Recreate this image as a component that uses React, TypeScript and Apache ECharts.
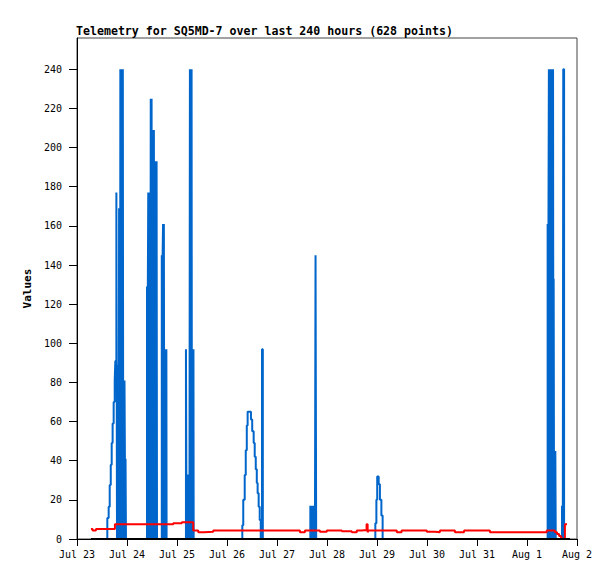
import React, { useEffect, useRef } from "react";
import * as echarts from "echarts";

const xTickLabels = ["Jul 23", "Jul 24", "Jul 25", "Jul 26", "Jul 27", "Jul 28", "Jul 29", "Jul 30", "Jul 31", "Aug 1", "Aug 2"];
const yTickValues = [0, 20, 40, 60, 80, 100, 120, 140, 160, 180, 200, 220, 240];

// [hours since Jul 23 00:00, value]
const blueValues: [number, number][] = [
  [6.7, 0],
  [14.55, 10.7], [15.2, 16.5], [15.7, 27.6], [16.2, 38], [16.65, 49], [17.1, 59], [17.6, 70], [18.1, 81], [18.4, 91], [18.9, 177],
  [19.2, 0], [19.4, 89], [19.6, 0], [19.8, 89], [20.0, 0], [20.2, 169], [20.4, 0], [20.5, 89], [20.7, 0], [20.8, 240], [21.0, 0],
  [21.2, 240], [21.4, 0], [21.6, 240], [21.8, 0], [22.0, 240], [22.2, 0], [22.4, 81], [22.6, 0], [22.8, 81], [23.0, 41], [23.2, 0],
  [23.3, 41], [23.5, 0],
  [33.6, 129], [33.8, 0], [34.0, 129], [34.2, 177], [34.4, 0], [34.6, 177], [34.8, 0], [35.0, 177], [35.2, 0], [35.4, 225], [35.6, 0],
  [35.8, 225], [36.0, 0], [36.1, 209], [36.3, 0], [36.5, 209], [36.7, 0], [36.9, 209], [37.0, 145], [37.2, 0], [37.4, 193], [37.6, 0],
  [37.8, 193], [38.0, 0], [38.2, 193], [38.4, 0],
  [40.7, 145], [40.9, 0], [41.1, 145], [41.3, 161], [41.5, 0], [41.7, 161], [41.9, 0], [42.1, 97], [42.3, 0], [42.5, 97], [42.7, 0],
  [42.9, 97], [43.0, 0],
  [52.3, 97], [52.6, 0], [52.8, 33], [53.0, 0], [53.2, 33], [53.4, 0], [53.6, 33], [53.8, 0], [54.0, 33], [54.2, 240], [54.4, 0],
  [54.6, 240], [54.8, 0], [55.0, 240], [55.1, 97], [55.3, 0], [55.5, 97], [55.7, 0], [55.9, 97], [56.0, 0],
  [79.35, 7], [79.8, 20], [80.5, 32.7], [81.0, 45.4], [81.5, 58], [81.9, 65], [83.5, 61], [84.1, 55], [84.8, 49], [85.3, 42],
  [85.8, 35.7], [86.3, 28.6], [86.7, 23.4], [87.2, 16.5], [87.7, 9.7], [88.2, 0], [88.8, 97], [89.2, 0],
  [112.0, 17], [112.2, 0], [112.4, 17], [112.6, 0], [112.8, 17], [113.0, 0], [113.2, 17], [113.4, 0], [113.6, 17], [113.8, 0],
  [114.0, 17], [114.2, 0], [114.5, 145], [114.8, 0],
  [143.2, 8], [143.7, 20], [144.1, 32], [144.8, 28], [145.4, 20], [146.1, 12], [146.7, 0],
  [225.9, 161], [226.1, 0], [226.3, 161], [226.5, 240], [226.7, 0], [226.9, 240], [227.1, 0], [227.3, 240], [227.4, 193], [227.6, 0],
  [227.8, 193], [228.0, 0], [228.1, 240], [228.3, 0], [228.5, 240], [228.7, 0], [228.8, 133], [229.0, 0], [229.2, 45], [229.4, 0],
  [229.6, 45], [229.8, 0],
  [232.8, 17], [233.0, 0], [233.2, 17], [233.4, 240], [233.8, 0], [234.7, 0],
];

const redValues: [number, number][] = [
  [6.7, 5.1], [7.5, 4.3], [9.1, 5.1], [18.2, 7.5], [46.2, 8.0], [50.3, 8.5], [55.8, 4.3], [58.2, 3.4], [61.0, 3.7], [65.4, 4.3],
  [107.0, 3.4], [109.4, 4.3], [116.6, 3.7], [119.9, 4.3], [127.1, 3.9], [131.9, 3.4], [134.3, 4.3], [136.7, 4.6], [139.0, 7.6],
  [139.5, 3.4], [139.8, 4.3], [153.5, 3.4], [155.8, 4.3], [167.9, 3.7], [171.8, 3.4], [174.2, 4.3], [181.4, 3.4], [185.8, 4.3],
  [198.2, 3.4], [225.5, 4.3], [229.4, 3.5], [230.4, 2.5], [231.4, 1.5], [232.3, 0.6], [232.8, 0], [234.2, 7.6], [235.2, 7.6],
];

const blackValues: [number, number][] = [
  [6.7, 0], [236.6, 0],
];

const MONO = "'DejaVu Sans Mono', 'Liberation Mono', monospace";

export default function App() {
  const ref = useRef<HTMLDivElement>(null);
  useEffect(() => {
    if (!ref.current) return;
    const chart = echarts.init(ref.current, null, { renderer: "svg" });
    chart.setOption({
      animation: false,
      backgroundColor: "#ffffff",
      title: {
        text: "Telemetry for SQ5MD-7 over last 240 hours (628 points)",
        left: 76,
        top: 24,
        padding: 0,
        textStyle: { fontFamily: MONO, fontWeight: "bold", fontSize: 11.6, color: "#000", lineHeight: 13 },
      },
      grid: {
        left: 77,
        right: 38,
        top: 38,
        bottom: 40,
        show: true,
        borderColor: "#444",
        borderWidth: 1,
        backgroundColor: "transparent",
      },
      xAxis: {
        type: "value",
        min: 0,
        max: 240,
        interval: 24,
        axisLine: { show: true, lineStyle: { color: "#000", width: 1 } },
        axisTick: { show: true, length: 7, lineStyle: { color: "#000" } },
        splitLine: { show: false },
        axisLabel: {
          margin: 10,
          fontFamily: MONO,
          fontSize: 10,
          color: "#000",
          formatter: (v: number) => xTickLabels[Math.round(v / 24)] ?? "",
        },
      },
      yAxis: {
        type: "value",
        min: 0,
        max: 256,
        name: "Values",
        nameLocation: "middle",
        nameGap: 33,
        nameTextStyle: { fontFamily: MONO, fontWeight: "bold", fontSize: 11, color: "#000" },
        axisLine: { show: true, lineStyle: { color: "#000", width: 1 } },
        axisTick: { show: true, length: 8, lineStyle: { color: "#000" }, customValues: yTickValues },
        splitLine: { show: false },
        axisLabel: {
          margin: 15,
          fontFamily: MONO,
          fontSize: 10,
          color: "#000",
          customValues: yTickValues,
        },
      },
      series: [
        {
          type: "line",
          data: blueValues,
          step: "end",
          showSymbol: false,
          symbol: "none",
          lineStyle: { color: "#0066cc", width: 2 },
          z: 2,
        },
        {
          type: "line",
          data: redValues,
          step: "end",
          showSymbol: false,
          symbol: "none",
          lineStyle: { color: "#ff0000", width: 2 },
          z: 3,
        },
        {
          type: "line",
          data: blackValues,
          showSymbol: false,
          symbol: "none",
          lineStyle: { color: "#000000", width: 2 },
          z: 4,
        },
      ],
    });
    return () => chart.dispose();
  }, []);
  return <div ref={ref} style={{ position: "fixed", left: 0, top: 0, width: 615, height: 579 }} />;
}
